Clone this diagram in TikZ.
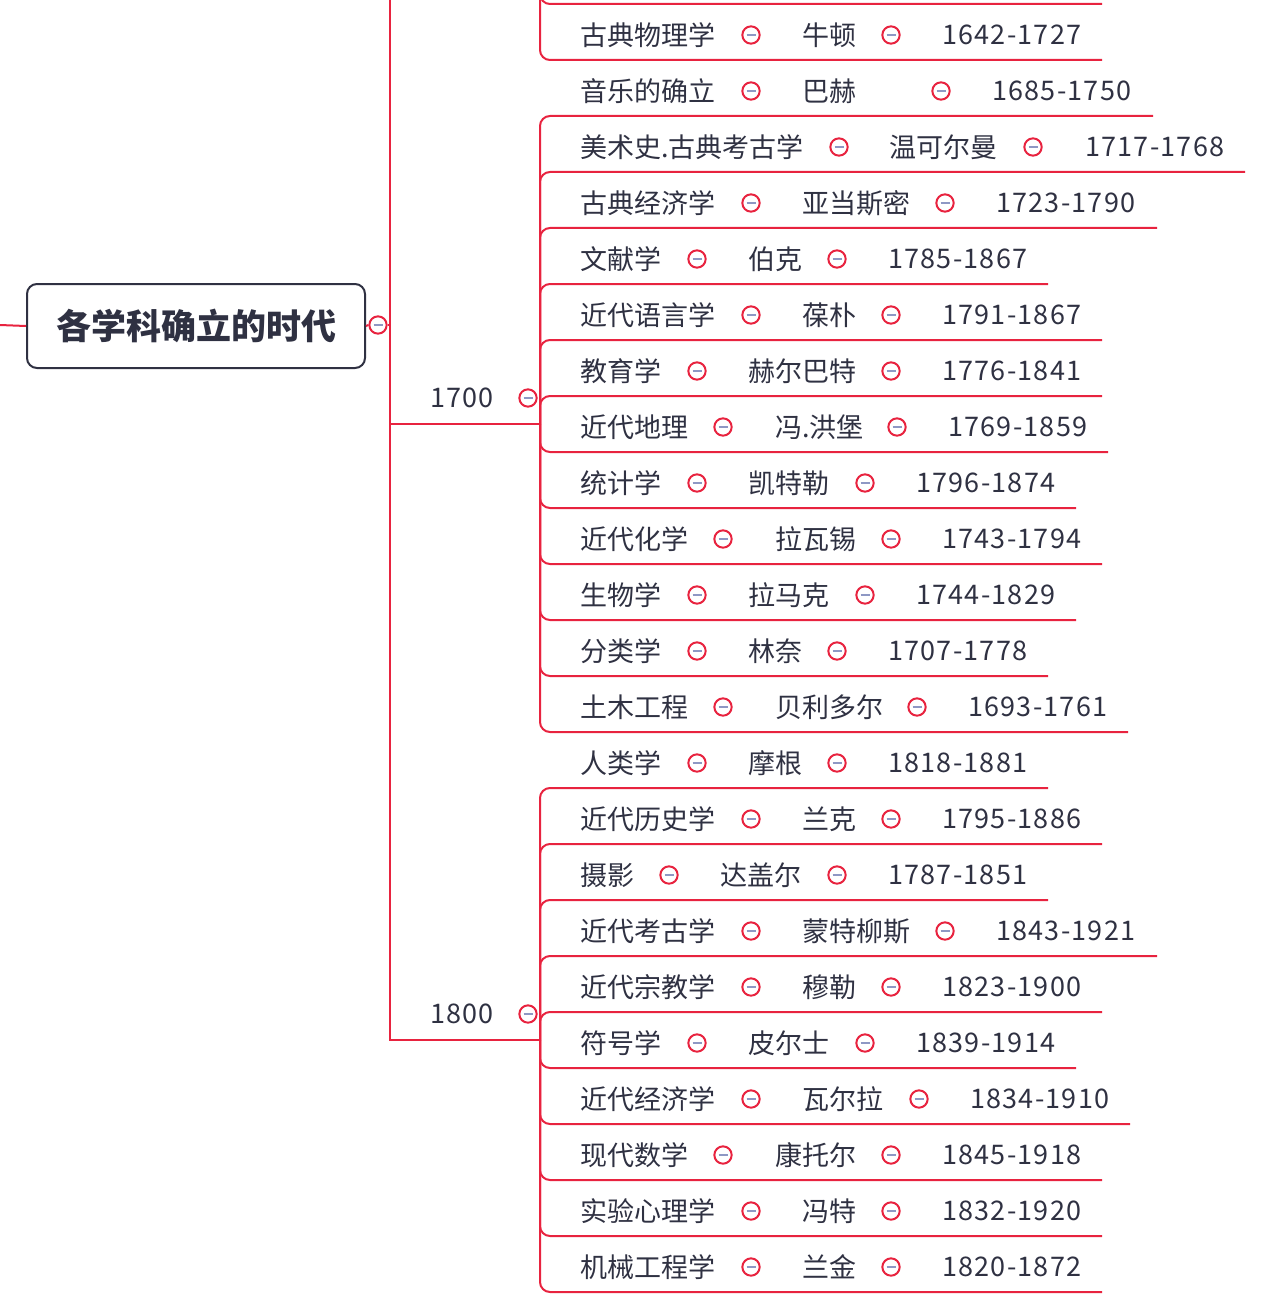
\documentclass[tikz,border=0pt]{standalone}
\usepackage{fontspec}
\setmainfont{Noto Sans CJK SC}
\usetikzlibrary{calc}
\definecolor{lred}{HTML}{E8233F}
\definecolor{txt}{HTML}{2F3142}
\definecolor{dashc}{HTML}{8E98C4}
\begin{document}
\begin{tikzpicture}[x=0.75pt,y=-0.75pt,
  conn/.style={draw=lred,line width=1.5pt},
  lbl/.style={anchor=west,inner sep=0pt,text=txt,font=\fontsize{20.25}{24}\selectfont},
  num/.style={lbl,font=\fontsize{20.25}{24}\selectfont\addfontfeatures{LetterSpace=4.5}},
  coll/.style={circle,draw=lred,line width=1.5pt,fill=white,minimum size=13pt,inner sep=0pt},
  collbar/.style={draw=dashc,line width=1.5pt},
  rootbox/.style={draw=txt,line width=1.5pt,rounded corners=7.5pt,minimum width=253.5pt,minimum height=63pt,text=txt,font=\fontsize{26.25}{30}\selectfont\bfseries,inner sep=0pt}]
\useasboundingbox (0,0) rectangle (1274,1305);
\clip (0,0) rectangle (1274,1305);
% root
\node[rootbox] (root) at (196,326) {各学科确立的时代};
\coordinate (lin) at (0,325);
\draw[conn] (lin) -- (root.west);
\node[coll] (rc) at (378,325) {};
\draw[collbar] (373.5,325) -- (382.5,325);
\draw[conn] (root.east) -- (rc.west);
\coordinate (rj) at (390,325);
\draw[conn] (rc.east) -- (rj);
% group coordinates
\coordinate (g1600) at (540,-200);
\coordinate (g1700) at (540,424);
\coordinate (g1800) at (540,1040);
\coordinate (gup) at (390,-50);
\draw[conn] (rj) -- (gup);
\draw[conn] (rj) |- (g1700);
\draw[conn] (rj) |- (g1800);
% branch labels
\node[num] (t1700) at (430,398) {1700};
\node[coll] (c1700) at (528,398) {};
\draw[collbar] (523.5,398) -- (532.5,398);
\node[num] (t1800) at (430,1014) {1800};
\node[coll] (c1800) at (528,1014) {};
\draw[collbar] (523.5,1014) -- (532.5,1014);
% partial row at the top
\coordinate (u0) at (1102,4);
\draw[conn,rounded corners=7.5pt] (g1600) |- (u0);
% rows
\foreach \n/\ty/\sub/\ca/\per/\px/\cb/\yr/\yx/\ex/\g in {
 a/35/古典物理学/751/牛顿/802/891/1642-1727/942/1102/g1600,
 b/91/音乐的确立/751/巴赫/802/941/1685-1750/992/1153/g1700,
 c/147/美术史.古典考古学/839/温可尔曼/889/1033/1717-1768/1085/1245/g1700,
 d/203/古典经济学/751/亚当斯密/802/945/1723-1790/996/1157/g1700,
 e/259/文献学/697/伯克/748/837/1785-1867/888/1048/g1700,
 f/315/近代语言学/751/葆朴/802/891/1791-1867/942/1102/g1700,
 g/371/教育学/697/赫尔巴特/748/891/1776-1841/942/1102/g1700,
 h/427/近代地理/723/冯.洪堡/775/897/1769-1859/948/1108/g1700,
 i/483/统计学/697/凯特勒/748/865/1796-1874/916/1076/g1700,
 j/539/近代化学/723/拉瓦锡/775/891/1743-1794/942/1102/g1700,
 k/595/生物学/697/拉马克/748/865/1744-1829/916/1076/g1700,
 l/651/分类学/697/林奈/748/837/1707-1778/888/1048/g1700,
 m/707/土木工程/723/贝利多尔/775/917/1693-1761/968/1128/g1700,
 n/763/人类学/697/摩根/748/837/1818-1881/888/1048/g1800,
 o/819/近代历史学/751/兰克/802/891/1795-1886/942/1102/g1800,
 p/875/摄影/669/达盖尔/720/837/1787-1851/888/1048/g1800,
 q/931/近代考古学/751/蒙特柳斯/802/945/1843-1921/996/1157/g1800,
 r/987/近代宗教学/751/穆勒/802/891/1823-1900/942/1102/g1800,
 s/1043/符号学/697/皮尔士/748/865/1839-1914/916/1076/g1800,
 t/1099/近代经济学/751/瓦尔拉/802/919/1834-1910/970/1130/g1800,
 u/1155/现代数学/723/康托尔/775/891/1845-1918/942/1102/g1800,
 v/1211/实验心理学/751/冯特/802/891/1832-1920/942/1102/g1800,
 w/1267/机械工程学/751/兰金/802/891/1820-1872/942/1102/g1800}{
  \coordinate (u\n) at (\ex,\ty+25);
  \draw[conn,rounded corners=7.5pt] (\g) |- (u\n);
  \node[lbl] (s\n) at (580,\ty) {\sub};
  \node[coll] (ca\n) at (\ca,\ty) {};
  \draw[collbar] (\ca-4.5,\ty) -- (\ca+4.5,\ty);
  \node[lbl] (p\n) at (\px,\ty) {\per};
  \node[coll] (cb\n) at (\cb,\ty) {};
  \draw[collbar] (\cb-4.5,\ty) -- (\cb+4.5,\ty);
  \node[num] (y\n) at (\yx,\ty) {\yr};
}
\end{tikzpicture}
\end{document}
